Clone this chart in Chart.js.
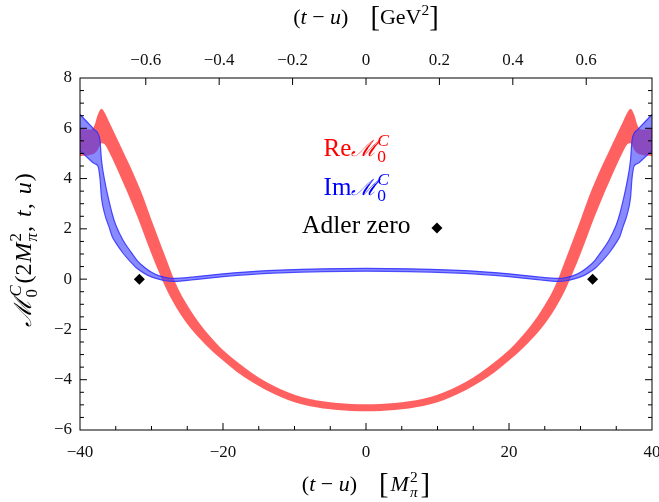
<!DOCTYPE html>
<html>
<head>
<meta charset="utf-8">
<script src="https://cdn.jsdelivr.net/npm/chart.js@4"></script>
<style>
  html, body { margin: 0; padding: 0; background: #fff; }
  #wrap { width: 659px; height: 502px; }
</style>
</head>
<body>
<div id="wrap"><canvas id="chart" width="659" height="502"></canvas></div>
<script>
// (t-u) in units of M_pi^2
const reX = [-40, -39, -38.5, -38, -37.5, -37, -36.5, -36, -35, -34, -33, -32, -31, -30, -29, -28, -27, -26, -25, -24, -23, -22, -21, -20, -18, -16, -14, -12, -10, -8, -6, -4, -2, 0,
  2, 4, 6, 8, 10, 12, 14, 16, 18, 20, 21, 22, 23, 24, 25, 26, 27, 28, 29, 30, 31, 32, 33, 34, 35, 36, 36.5, 37, 37.5, 38, 38.5, 39, 40];
const reLow = [4.9, 4.92, 4.95, 5.0, 5.15, 5.4, 5.35, 5.1, 4.5, 3.85, 3.2, 2.5, 1.75, 1.0, 0.3, -0.35, -0.9, -1.38, -1.78, -2.13, -2.44, -2.73, -3.0, -3.24, -3.7, -4.08, -4.41, -4.68, -4.9, -5.05, -5.14, -5.2, -5.24, -5.25,
  -5.24, -5.2, -5.14, -5.05, -4.9, -4.68, -4.41, -4.08, -3.7, -3.24, -3.0, -2.73, -2.44, -2.13, -1.78, -1.38, -0.9, -0.35, 0.3, 1.0, 1.75, 2.5, 3.2, 3.85, 4.5, 5.1, 5.35, 5.4, 5.15, 5.0, 4.95, 4.92, 4.9];
const reHigh = [6.0, 5.95, 5.95, 6.1, 6.55, 6.78, 6.6, 6.3, 5.7, 5.1, 4.5, 3.85, 3.15, 2.35, 1.6, 0.85, 0.1, -0.53, -1.03, -1.48, -1.86, -2.21, -2.53, -2.82, -3.3, -3.72, -4.08, -4.37, -4.6, -4.76, -4.86, -4.93, -4.97, -4.98,
  -4.97, -4.93, -4.86, -4.76, -4.6, -4.37, -4.08, -3.72, -3.3, -2.82, -2.53, -2.21, -1.86, -1.48, -1.03, -0.53, 0.1, 0.85, 1.6, 2.35, 3.15, 3.85, 4.5, 5.1, 5.7, 6.3, 6.6, 6.78, 6.55, 6.1, 5.95, 5.95, 6.0];

const imX = [-40, -39, -38, -37.5, -37.2, -37, -36.5, -36, -35.5, -35, -34, -33, -32, -31, -30, -29, -28, -27, -26, -25, -24, -22, -20, -18, -15, -12, -9, -6, -3, 0,
  3, 6, 9, 12, 15, 18, 20, 22, 24, 25, 26, 27, 28, 29, 30, 31, 32, 33, 34, 35, 35.5, 36, 36.5, 37, 37.2, 37.5, 38, 39, 40];
const imLow = [5.1, 4.85, 4.6, 4.5, 4.0, 3.25, 2.55, 2.13, 1.7, 1.45, 1.04, 0.71, 0.42, 0.23, 0.09, 0.0, -0.065, -0.09, -0.08, -0.05, -0.02, 0.04, 0.1, 0.15, 0.21, 0.25, 0.28, 0.3, 0.31, 0.315,
  0.31, 0.3, 0.28, 0.25, 0.21, 0.15, 0.1, 0.04, -0.02, -0.05, -0.08, -0.09, -0.065, 0.0, 0.09, 0.23, 0.42, 0.71, 1.04, 1.45, 1.7, 2.13, 2.55, 3.25, 4.0, 4.5, 4.6, 4.85, 5.1];
const imHigh = [6.55, 6.25, 5.95, 5.8, 5.5, 4.75, 3.85, 3.18, 2.6, 2.15, 1.56, 1.13, 0.74, 0.47, 0.27, 0.14, 0.065, 0.03, 0.04, 0.06, 0.09, 0.15, 0.21, 0.26, 0.32, 0.36, 0.39, 0.41, 0.42, 0.425,
  0.42, 0.41, 0.39, 0.36, 0.32, 0.26, 0.21, 0.15, 0.09, 0.06, 0.04, 0.03, 0.065, 0.14, 0.27, 0.47, 0.74, 1.13, 1.56, 2.15, 2.6, 3.18, 3.85, 4.75, 5.5, 5.8, 5.95, 6.25, 6.55];

const adlerX = [-31.7, 31.7];
const adlerY = [0, 0];

const xTicks = [-40, -20, 0, 20, 40];
const yTicks = [-6, -4, -2, 0, 2, 4, 6, 8];
const gevTicks = [-0.6, -0.4, -0.2, 0, 0.2, 0.4, 0.6];
const MPI2 = 0.01948; // M_pi^2 in GeV^2

const SERIF = '"Liberation Serif", "DejaVu Serif", serif';

function pts(xs, ys) {
  return xs.map((x, i) => ({ x: x, y: ys[i] }));
}

function fmt(v) {
  if (Math.abs(v) < 1e-9) return '0';
  const s = Number.isInteger(v) ? String(Math.abs(v)) : Math.abs(v).toFixed(1);
  return (v < 0 ? '\u2212' : '') + s;
}

// little rich-text helper for sub/superscripts
function richLayout(ctx, parts, size) {
  let end = 0, start = 0;
  const items = [];
  for (const p of parts) {
    const fs = (p.pos ? size * 0.7 : size * (p.k || 1)) * (p.sc || 1);
    const font = (p.i ? 'italic ' : '') + fs + 'px ' + SERIF;
    ctx.font = font;
    const w = ctx.measureText(p.t).width;
    if (!p.back) start = end;
    let dy = 0;
    if (p.pos === 'sub') dy = size * 0.25;
    else if (p.pos === 'sup') dy = -size * 0.42;
    else if (p.k) dy = size * (p.k - 1) * 0.3;
    items.push({ t: p.t, font: font, x: start + (p.pad || 0), dy: dy });
    end = Math.max(end, start + w + (p.pad || 0));
  }
  return { items: items, width: end };
}

function drawRich(ctx, parts, size, x, y, color, rot) {
  const L = richLayout(ctx, parts, size);
  ctx.save();
  ctx.translate(x, y);
  if (rot) ctx.rotate(rot);
  ctx.fillStyle = color;
  ctx.textBaseline = 'alphabetic';
  ctx.textAlign = 'left';
  for (const it of L.items) {
    ctx.font = it.font;
    ctx.fillText(it.t, it.x - L.width / 2, it.dy);
  }
  ctx.restore();
}

const titleBottom = [{ t: '(' }, { t: 't', i: true }, { t: ' \u2212 ' }, { t: 'u', i: true }, { t: ')    ' },
  { t: '[', k: 1.3 }, { t: 'M', i: true, pad: 2 }, { t: '\u03c0', pos: 'sub', i: true, pad: 1 }, { t: '2', pos: 'sup', back: true, pad: 1 }, { t: ']', k: 1.3, pad: 3 }];
const titleTop = [{ t: '(' }, { t: 't', i: true }, { t: ' \u2212 ' }, { t: 'u', i: true }, { t: ')    ' },
  { t: '[', k: 1.3 }, { t: 'GeV' }, { t: '2', pos: 'sup' }, { t: ']', k: 1.3 }];
const titleLeft = [{ t: '\u2133', i: true }, { t: '0', pos: 'sub', pad: 1 }, { t: 'C', pos: 'sup', i: true, back: true, pad: 2 },
  { t: '(2', pad: 2 }, { t: 'M', i: true, pad: 1 }, { t: '\u03c0', pos: 'sub', i: true, pad: 1 }, { t: '2', pos: 'sup', back: true, pad: 1 },
  { t: ', ', pad: 1 }, { t: 't', i: true, pad: 3 }, { t: ', ', pad: 1 }, { t: 'u', i: true, pad: 3 }, { t: ')', pad: 1 }];
const legRe = [{ t: 'Re' }, { t: '\u2133', i: true, sc: 0.9 }, { t: '0', pos: 'sub' }, { t: 'C', pos: 'sup', i: true, back: true }];
const legIm = [{ t: 'Im' }, { t: '\u2133', i: true, sc: 0.9 }, { t: '0', pos: 'sub' }, { t: 'C', pos: 'sup', i: true, back: true }];
const legAdler = [{ t: 'Adler zero' }];

const frame = {
  id: 'frame',
  afterDraw(chart) {
    const { ctx, chartArea: a, scales } = chart;
    const sx = scales.x, sy = scales.y, sg = scales.gev;
    ctx.save();
    ctx.strokeStyle = '#000';
    ctx.lineWidth = 1;
    ctx.strokeRect(a.left, a.top, a.right - a.left, a.bottom - a.top);
    ctx.beginPath();
    // bottom axis: major every 20, minor every 5
    for (let v = -35; v < 40; v += 5) {
      const px = sx.getPixelForValue(v);
      const len = v % 20 === 0 ? 7 : 4;
      ctx.moveTo(px, a.bottom); ctx.lineTo(px, a.bottom - len);
    }
    // left and right: major every 2, minor every 0.5
    for (let v = -5.5; v < 8; v += 0.5) {
      const py = sy.getPixelForValue(v);
      const len = v % 2 === 0 ? 7 : 4;
      ctx.moveTo(a.left, py); ctx.lineTo(a.left + len, py);
      ctx.moveTo(a.right, py); ctx.lineTo(a.right - len, py);
    }
    // top GeV axis
    gevTicks.forEach(v => {
      const px = sg.getPixelForValue(v);
      ctx.moveTo(px, a.top); ctx.lineTo(px, a.top + 7);
    });
    ctx.stroke();

    // axis titles
    const cx = (a.left + a.right) / 2;
    drawRich(ctx, titleBottom, 22, cx, 491, '#000');
    drawRich(ctx, titleTop, 22, cx, 24, '#000');
    drawRich(ctx, titleLeft, 24, 31, (a.top + a.bottom) / 2 - 4, '#000', -Math.PI / 2);

    // legend inside the frame
    const lx = a.left + 0.483 * (a.right - a.left);
    const h = a.bottom - a.top;
    drawRich(ctx, legRe, 25, lx, a.top + 0.222 * h, '#ff0000');
    drawRich(ctx, legIm, 25, lx, a.top + 0.333 * h, '#0000ff');
    drawRich(ctx, legAdler, 25.5, lx, a.top + 0.44 * h, '#000');
    const dx = a.left + 0.624 * (a.right - a.left), dy = a.top + 0.426 * h;
    ctx.fillStyle = '#000';
    ctx.beginPath();
    ctx.moveTo(dx - 5.5, dy); ctx.lineTo(dx, dy - 5.5); ctx.lineTo(dx + 5.5, dy); ctx.lineTo(dx, dy + 5.5);
    ctx.closePath();
    ctx.fill();
    ctx.restore();
  }
};

const tickFont = { family: SERIF, size: 17 };

function noPad(s) {
  s.paddingLeft = 0; s.paddingRight = 0; s.paddingTop = 0; s.paddingBottom = 0;
}

new Chart(document.getElementById('chart'), {
  type: 'line',
  data: {
    datasets: [
      {
        type: 'scatter', label: 'Adler zero', data: pts(adlerX, adlerY),
        pointStyle: 'rectRot', pointRadius: 5.5, backgroundColor: '#000', borderColor: '#000', borderWidth: 0, order: 0
      },
      {
        label: 'Im high', data: pts(imX, imHigh), fill: '+1',
        backgroundColor: 'rgba(60,60,255,0.6)', borderColor: 'rgba(45,45,255,0.85)', borderWidth: 1.2,
        pointRadius: 0, cubicInterpolationMode: 'monotone', order: 1
      },
      {
        label: 'Im low', data: pts(imX, imLow), fill: false,
        borderColor: 'rgba(45,45,255,0.85)', borderWidth: 1.2,
        pointRadius: 0, cubicInterpolationMode: 'monotone', order: 1
      },
      {
        label: 'Re high', data: pts(reX, reHigh), fill: '+1',
        backgroundColor: 'rgba(255,0,0,0.62)', borderColor: 'rgba(255,0,0,0)', borderWidth: 0,
        pointRadius: 0, cubicInterpolationMode: 'monotone', order: 2
      },
      {
        label: 'Re low', data: pts(reX, reLow), fill: false,
        borderColor: 'rgba(255,0,0,0)', borderWidth: 0,
        pointRadius: 0, cubicInterpolationMode: 'monotone', order: 2
      }
    ]
  },
  options: {
    responsive: false,
    devicePixelRatio: 1,
    animation: false,
    layout: { padding: { left: 0, right: 7, top: 0, bottom: 0 } },
    plugins: { legend: { display: false }, tooltip: { enabled: false } },
    scales: {
      x: {
        type: 'linear', position: 'bottom', min: -40, max: 40,
        grid: { display: false }, border: { display: false },
        afterBuildTicks: s => { s.ticks = xTicks.map(v => ({ value: v })); },
        ticks: { color: '#111', font: tickFont, padding: 4, maxRotation: 0, callback: v => fmt(v) },
        afterFit: s => { s.height = 72; noPad(s); }
      },
      gev: {
        type: 'linear', position: 'top', min: -40 * MPI2, max: 40 * MPI2,
        grid: { display: false }, border: { display: false },
        afterBuildTicks: s => { s.ticks = gevTicks.map(v => ({ value: v })); },
        ticks: { color: '#111', font: tickFont, padding: -1, maxRotation: 0, callback: v => fmt(v) },
        afterFit: s => { s.height = 78; noPad(s); }
      },
      y: {
        type: 'linear', position: 'left', min: -6, max: 8,
        grid: { display: false }, border: { display: false },
        afterBuildTicks: s => { s.ticks = yTicks.map(v => ({ value: v })); },
        ticks: { color: '#111', font: tickFont, padding: 0, callback: v => fmt(v) },
        afterFit: s => { s.width = 80; noPad(s); }
      }
    }
  },
  plugins: [frame]
});
</script>
</body>
</html>
